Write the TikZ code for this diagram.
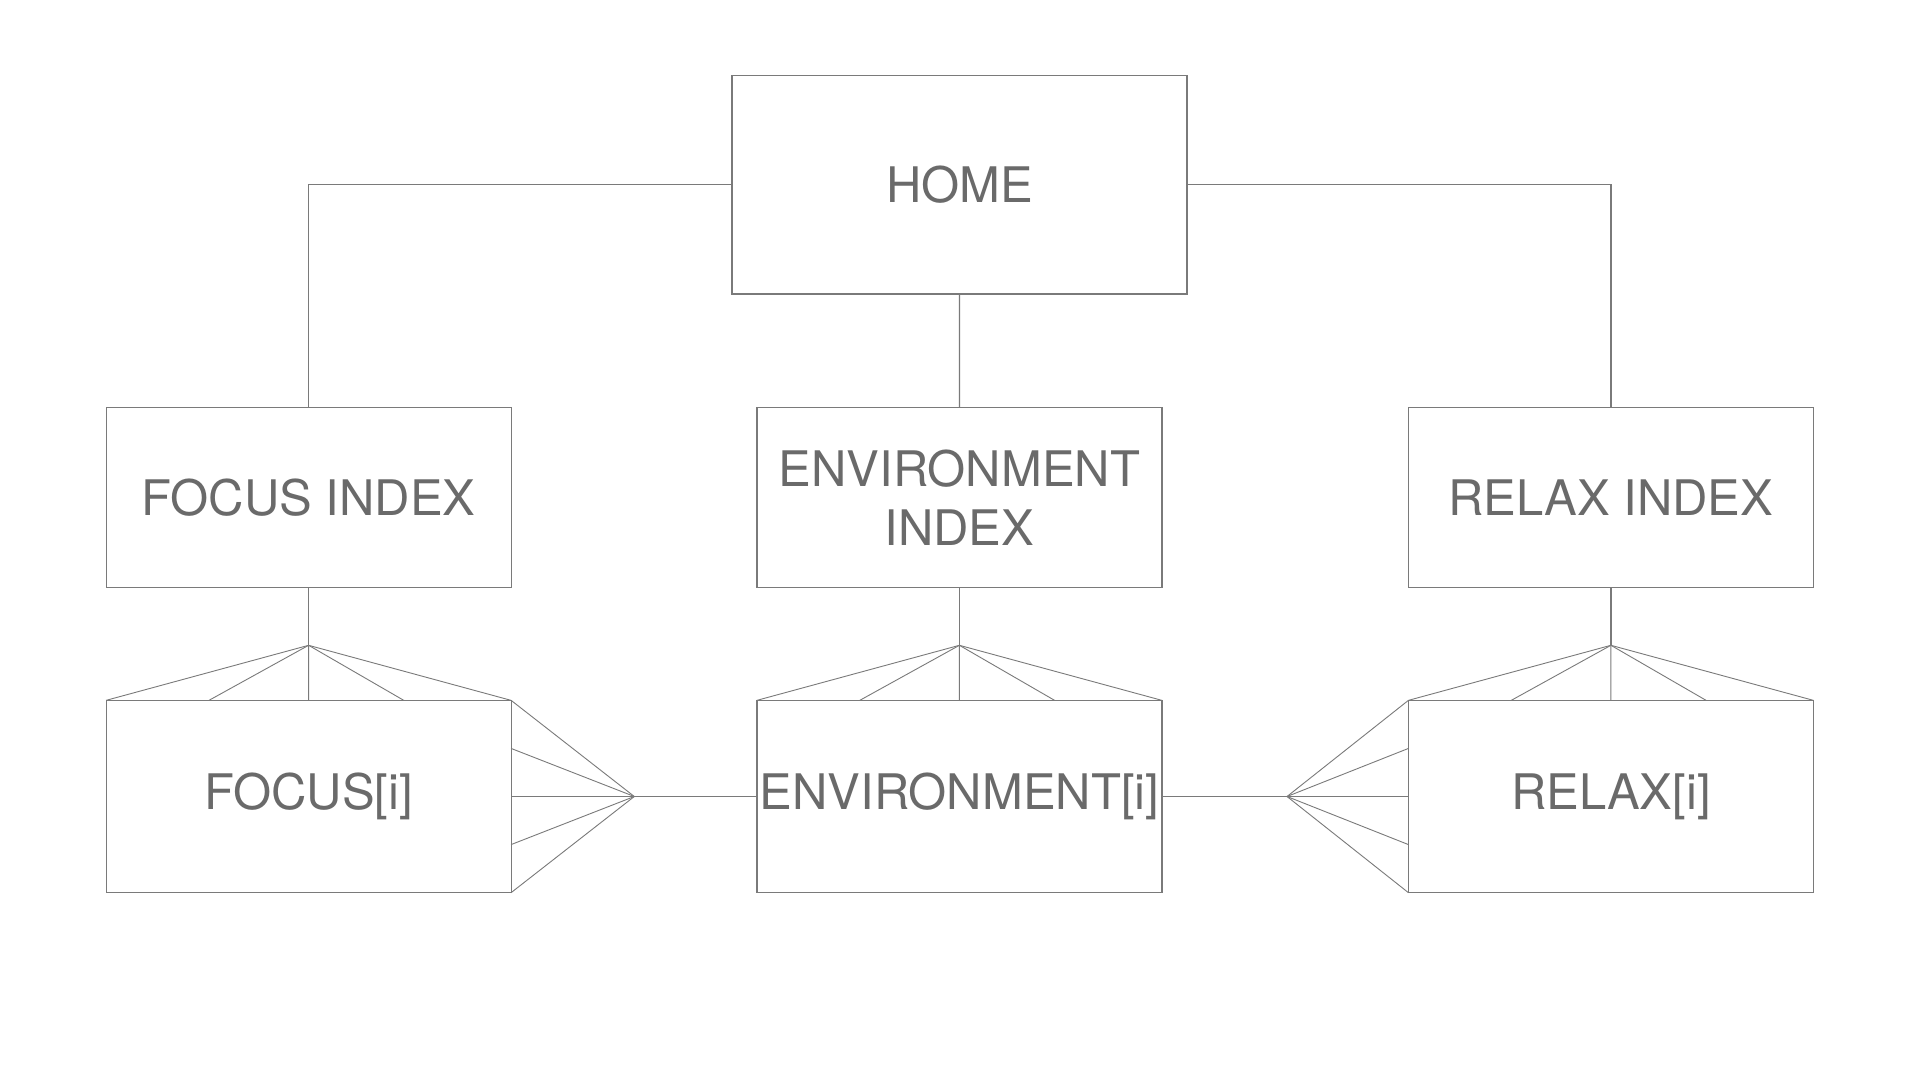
\documentclass[tikz,border=0pt]{standalone}
\usepackage{fontspec}
\setmainfont{TeX Gyre Heros}
\usetikzlibrary{calc}
\definecolor{txtgray}{HTML}{6A6A6A}
\definecolor{lngray}{HTML}{7A7A7A}
\begin{document}
\begin{tikzpicture}[x=0.5pt,y=-0.5pt,
  box/.style={draw=lngray, line width=0.6pt, inner sep=0pt, outer sep=0pt,
    text=txtgray, font=\fontsize{24.5}{29.5}\selectfont, align=center,
    minimum width=202.5pt},
  conn/.style={draw=lngray, line width=0.6pt},
  fan/.style={draw=lngray, line width=0.45pt}]
\useasboundingbox (0,0) rectangle (1920,1080);
\fill[white] (0,0) rectangle (1920,1080);
% boxes
\node[box, minimum width=227.5pt, minimum height=109.3pt] (home) at (959.5,184.8) {HOME};
\node[box, minimum height=90pt] (fi) at (308.6,497.8) {FOCUS INDEX};
\node[box, minimum height=90pt] (ei) at (959.4,497.8) {ENVIRONMENT\\INDEX};
\node[box, minimum height=90pt] (ri) at (1610.9,497.8) {RELAX INDEX};
\node[box, minimum height=96.15pt] (f) at (308.6,796.5) {FOCUS[i]};
\node[box, minimum height=96.15pt] (e) at (959.4,796.5) {ENVIRONMENT[i]};
\node[box, minimum height=96.15pt] (r) at (1610.9,796.5) {RELAX[i]};
% fan apexes
\coordinate (fa) at (308.6,645.3);
\coordinate (ea) at (959.4,645.3);
\coordinate (ra) at (1610.9,645.3);
\coordinate (fs) at (634.3,796.5);
\coordinate (rs) at (1287.0,796.5);
% top connectors
\draw[conn] (home.west) -| (fi.north);
\draw[conn] (home.east) -| (ri.north);
\draw[conn] (home.south) -- (ei.north);
% index to fan apex
\draw[conn] (fi.south) -- (fa);
\draw[conn] (ei.south) -- (ea);
\draw[conn] (ri.south) -- (ra);
% crow's feet on top
\foreach \a/\b in {fa/f, ea/e, ra/r}{
  \foreach \t in {0,0.254,0.5,0.735,1}{
    \draw[fan] (\a) -- ($(\b.north west)!\t!(\b.north east)$);
  }
}
% side crow's feet
\foreach \t in {0,0.25,0.5,0.75,1}{
  \draw[fan] (fs) -- ($(f.north east)!\t!(f.south east)$);
  \draw[fan] (rs) -- ($(r.north west)!\t!(r.south west)$);
}
\draw[conn] (fs) -- (e.west);
\draw[conn] (e.east) -- (rs);
\end{tikzpicture}
\end{document}
